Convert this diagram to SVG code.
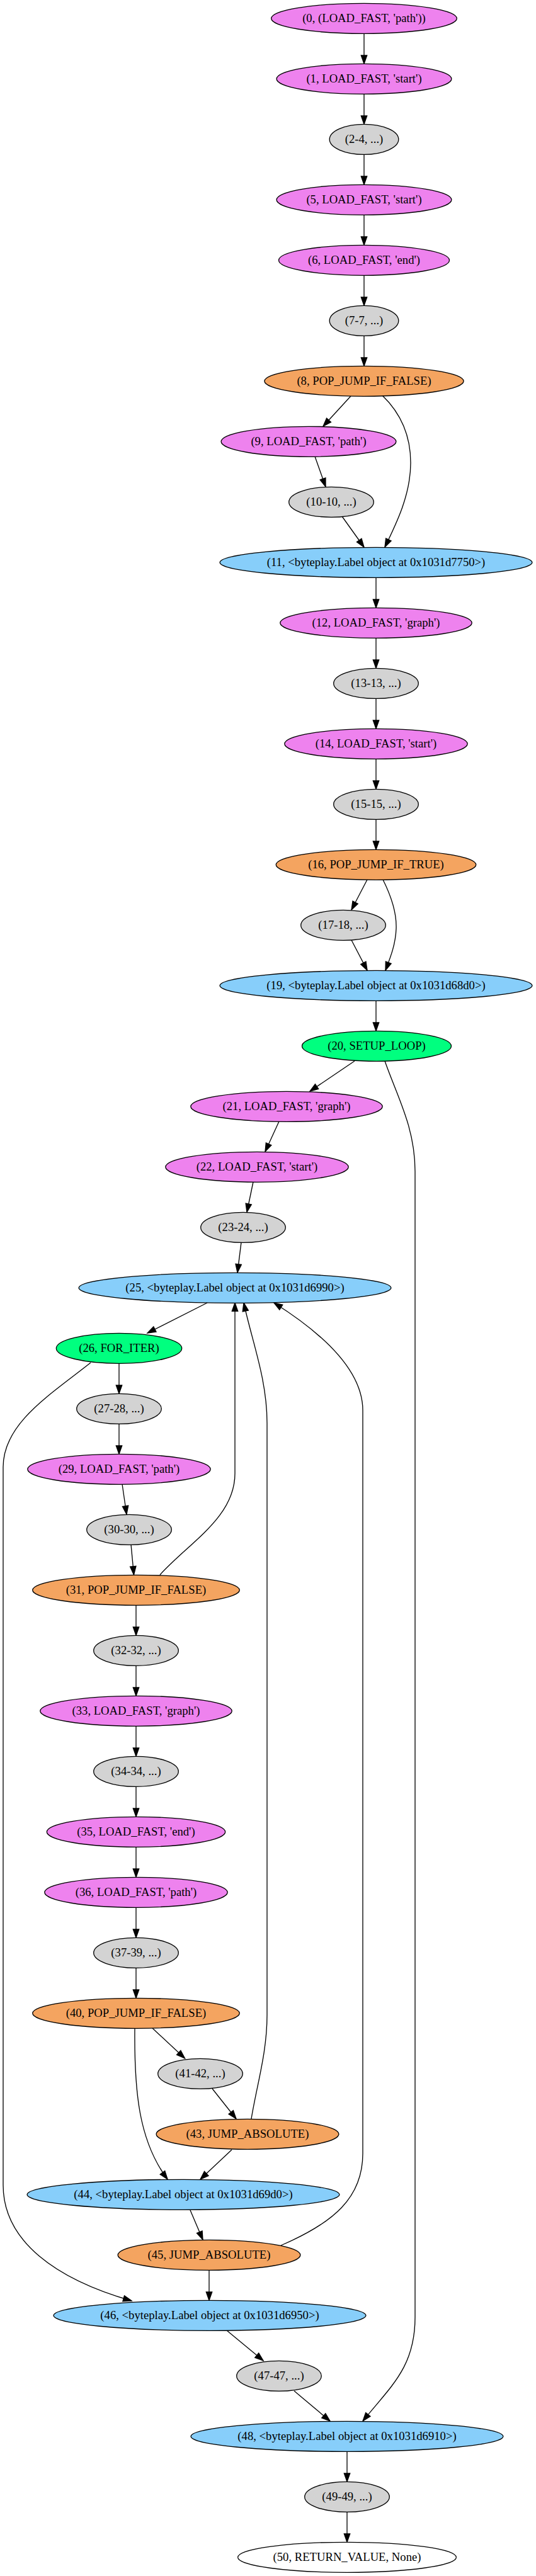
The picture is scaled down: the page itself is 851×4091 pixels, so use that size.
<svg xmlns="http://www.w3.org/2000/svg" width="851" height="4091" viewBox="0 0 851 4091">
<style>
.node ellipse{stroke:#000;stroke-width:1.33}
.node text{font-family:"Liberation Serif","Times New Roman",serif;font-size:18.67px;text-anchor:middle;fill:#000}
.v{fill:#ee82ee}.g{fill:#d3d3d3}.o{fill:#f4a460}.b{fill:#87cefa}.s{fill:#00ff7f}.w{fill:#fff}
#edges path{fill:none;stroke:#000;stroke-width:1.33;marker-end:url(#arr)}
</style>
<defs>
<marker id="arr" markerUnits="userSpaceOnUse" viewBox="0 -6 15 12" markerWidth="15" markerHeight="12" refX="13.33" refY="0" orient="auto" overflow="visible">
<path d="M0,-4.67 L13.33,0 L0,4.67 Z" fill="#000" stroke="#000" stroke-width="1.33"/>
</marker>
</defs>
<rect width="851" height="4091" fill="#fff"/>
<g id="edges">
<path d="M578,53.3 L578,101.3"/>
<path d="M578,149.3 L578,197.3"/>
<path d="M578,245.3 L578,293.3"/>
<path d="M578,341.3 L578,389.3"/>
<path d="M578,437.3 L578,485.3"/>
<path d="M578,533.3 L578,581.3"/>
<path d="M557,629 L513,677"/>
<path d="M607,628 C635,655 652,690 652,735 C652,785 630,830 611,869"/>
<path d="M500,725 L517,773"/>
<path d="M543,820 L578,869"/>
<path d="M597,917.3 L597,965.3"/>
<path d="M597,1013.3 L597,1061.3"/>
<path d="M597,1109.3 L597,1157.3"/>
<path d="M597,1205.3 L597,1253.3"/>
<path d="M597,1301.3 L597,1349.3"/>
<path d="M583,1397 L558,1445"/>
<path d="M608,1397 C622,1425 630,1450 629,1475 C628,1500 620,1520 612,1541"/>
<path d="M558,1493 L583,1541"/>
<path d="M597,1589.3 L597,1637.3"/>
<path d="M563,1685 L492,1733"/>
<path d="M611,1685 C630,1740 659,1790 659,1860 L659,3680 C659,3760 620,3790 576,3845"/>
<path d="M443,1781 L421,1829"/>
<path d="M402,1877 L392,1925"/>
<path d="M383,1973 L377,2021"/>
<path d="M329,2069 L234,2117"/>
<path d="M189,2165.3 L189,2213.3"/>
<path d="M144,2164 C80,2215 5,2260 5,2330 L5,3470 C5,3560 90,3620 209,3654"/>
<path d="M189,2261.3 L189,2309.3"/>
<path d="M194,2357 L201,2405"/>
<path d="M208,2453 L212.5,2501"/>
<path d="M254,2501 C300,2450 373,2410 373,2340 L373,2069"/>
<path d="M216,2549.3 L216,2597.3"/>
<path d="M216,2645.3 L216,2693.3"/>
<path d="M216,2741.3 L216,2789.3"/>
<path d="M216,2837.3 L216,2885.3"/>
<path d="M216,2933.3 L216,2981.3"/>
<path d="M216,3029.3 L216,3077.3"/>
<path d="M216,3125.3 L216,3173.3"/>
<path d="M242,3221 L293.5,3269"/>
<path d="M214,3221 C213,3320 220,3400 266,3461"/>
<path d="M337,3317 L375,3365"/>
<path d="M399,3365 C408,3310 424,3260 424,3200 L424,2260 C424,2190 400,2130 387,2069"/>
<path d="M368,3414 L318,3461"/>
<path d="M302,3510 L322,3557"/>
<path d="M446,3566 C530,3530 576,3490 576,3420 L576,2240 C576,2170 500,2110 435,2069"/>
<path d="M332,3605.3 L332,3653.3"/>
<path d="M360,3701 L418,3749"/>
<path d="M467,3797 L524,3845"/>
<path d="M551,3893.3 L551,3941.3"/>
<path d="M551,3989.3 L551,4037.3"/>
</g>
<g id="n0" class="node"><ellipse class="v" cx="578" cy="29.3" rx="147.3" ry="24"/><text x="578" y="34.9">(0, (LOAD_FAST, 'path'))</text></g>
<g id="n1" class="node"><ellipse class="v" cx="578" cy="125.3" rx="138.9" ry="24"/><text x="578" y="130.9">(1, LOAD_FAST, 'start')</text></g>
<g id="n2" class="node"><ellipse class="g" cx="578" cy="221.3" rx="54.8" ry="24"/><text x="578" y="226.9">(2-4, ...)</text></g>
<g id="n5" class="node"><ellipse class="v" cx="578" cy="317.3" rx="138.9" ry="24"/><text x="578" y="322.9">(5, LOAD_FAST, 'start')</text></g>
<g id="n6" class="node"><ellipse class="v" cx="578" cy="413.3" rx="135.5" ry="24"/><text x="578" y="418.9">(6, LOAD_FAST, 'end')</text></g>
<g id="n7" class="node"><ellipse class="g" cx="578" cy="509.3" rx="54.8" ry="24"/><text x="578" y="514.9">(7-7, ...)</text></g>
<g id="n8" class="node"><ellipse class="o" cx="578" cy="605.3" rx="158.1" ry="24"/><text x="578" y="610.9">(8, POP_JUMP_IF_FALSE)</text></g>
<g id="n9" class="node"><ellipse class="v" cx="490" cy="701.3" rx="138.9" ry="24"/><text x="490" y="706.9">(9, LOAD_FAST, 'path')</text></g>
<g id="n10" class="node"><ellipse class="g" cx="526" cy="797.3" rx="67.3" ry="24"/><text x="526" y="802.9">(10-10, ...)</text></g>
<g id="n11" class="node"><ellipse class="b" cx="597" cy="893.3" rx="247.9" ry="24"/><text x="597" y="898.9">(11, &lt;byteplay.Label object at 0x1031d7750&gt;)</text></g>
<g id="n12" class="node"><ellipse class="v" cx="597" cy="989.3" rx="152.2" ry="24"/><text x="597" y="994.9">(12, LOAD_FAST, 'graph')</text></g>
<g id="n13" class="node"><ellipse class="g" cx="597" cy="1085.3" rx="67.3" ry="24"/><text x="597" y="1090.9">(13-13, ...)</text></g>
<g id="n14" class="node"><ellipse class="v" cx="597" cy="1181.3" rx="145.2" ry="24"/><text x="597" y="1186.9">(14, LOAD_FAST, 'start')</text></g>
<g id="n15" class="node"><ellipse class="g" cx="597" cy="1277.3" rx="67.3" ry="24"/><text x="597" y="1282.9">(15-15, ...)</text></g>
<g id="n16" class="node"><ellipse class="o" cx="597" cy="1373.3" rx="158.8" ry="24"/><text x="597" y="1378.9">(16, POP_JUMP_IF_TRUE)</text></g>
<g id="n17" class="node"><ellipse class="g" cx="545" cy="1469.3" rx="67.3" ry="24"/><text x="545" y="1474.9">(17-18, ...)</text></g>
<g id="n19" class="node"><ellipse class="b" cx="597" cy="1565.3" rx="247.9" ry="24"/><text x="597" y="1570.9">(19, &lt;byteplay.Label object at 0x1031d68d0&gt;)</text></g>
<g id="n20" class="node"><ellipse class="s" cx="598" cy="1661.3" rx="118.5" ry="24"/><text x="598" y="1666.9">(20, SETUP_LOOP)</text></g>
<g id="n21" class="node"><ellipse class="v" cx="455" cy="1757.3" rx="152.2" ry="24"/><text x="455" y="1762.9">(21, LOAD_FAST, 'graph')</text></g>
<g id="n22" class="node"><ellipse class="v" cx="408" cy="1853.3" rx="145.2" ry="24"/><text x="408" y="1858.9">(22, LOAD_FAST, 'start')</text></g>
<g id="n23" class="node"><ellipse class="g" cx="386" cy="1949.3" rx="67.3" ry="24"/><text x="386" y="1954.9">(23-24, ...)</text></g>
<g id="n25" class="node"><ellipse class="b" cx="373" cy="2045.3" rx="247.9" ry="24"/><text x="373" y="2050.9">(25, &lt;byteplay.Label object at 0x1031d6990&gt;)</text></g>
<g id="n26" class="node"><ellipse class="s" cx="189" cy="2141.3" rx="99.7" ry="24"/><text x="189" y="2146.9">(26, FOR_ITER)</text></g>
<g id="n27" class="node"><ellipse class="g" cx="189" cy="2237.3" rx="67.3" ry="24"/><text x="189" y="2242.9">(27-28, ...)</text></g>
<g id="n29" class="node"><ellipse class="v" cx="189" cy="2333.3" rx="145.2" ry="24"/><text x="189" y="2338.9">(29, LOAD_FAST, 'path')</text></g>
<g id="n30" class="node"><ellipse class="g" cx="205" cy="2429.3" rx="67.3" ry="24"/><text x="205" y="2434.9">(30-30, ...)</text></g>
<g id="n31" class="node"><ellipse class="o" cx="216" cy="2525.3" rx="164.3" ry="24"/><text x="216" y="2530.9">(31, POP_JUMP_IF_FALSE)</text></g>
<g id="n32" class="node"><ellipse class="g" cx="216" cy="2621.3" rx="67.3" ry="24"/><text x="216" y="2626.9">(32-32, ...)</text></g>
<g id="n33" class="node"><ellipse class="v" cx="216" cy="2717.3" rx="152.2" ry="24"/><text x="216" y="2722.9">(33, LOAD_FAST, 'graph')</text></g>
<g id="n34" class="node"><ellipse class="g" cx="216" cy="2813.3" rx="67.3" ry="24"/><text x="216" y="2818.9">(34-34, ...)</text></g>
<g id="n35" class="node"><ellipse class="v" cx="216" cy="2909.3" rx="141.7" ry="24"/><text x="216" y="2914.9">(35, LOAD_FAST, 'end')</text></g>
<g id="n36" class="node"><ellipse class="v" cx="216" cy="3005.3" rx="145.2" ry="24"/><text x="216" y="3010.9">(36, LOAD_FAST, 'path')</text></g>
<g id="n37" class="node"><ellipse class="g" cx="216" cy="3101.3" rx="67.3" ry="24"/><text x="216" y="3106.9">(37-39, ...)</text></g>
<g id="n40" class="node"><ellipse class="o" cx="216" cy="3197.3" rx="164.3" ry="24"/><text x="216" y="3202.9">(40, POP_JUMP_IF_FALSE)</text></g>
<g id="n41" class="node"><ellipse class="g" cx="318" cy="3293.3" rx="67.3" ry="24"/><text x="318" y="3298.9">(41-42, ...)</text></g>
<g id="n43" class="node"><ellipse class="o" cx="393" cy="3389.3" rx="144.9" ry="24"/><text x="393" y="3394.9">(43, JUMP_ABSOLUTE)</text></g>
<g id="n44" class="node"><ellipse class="b" cx="291" cy="3485.3" rx="247.9" ry="24"/><text x="291" y="3490.9">(44, &lt;byteplay.Label object at 0x1031d69d0&gt;)</text></g>
<g id="n45" class="node"><ellipse class="o" cx="332" cy="3581.3" rx="144.9" ry="24"/><text x="332" y="3586.9">(45, JUMP_ABSOLUTE)</text></g>
<g id="n46" class="node"><ellipse class="b" cx="333" cy="3677.3" rx="247.9" ry="24"/><text x="333" y="3682.9">(46, &lt;byteplay.Label object at 0x1031d6950&gt;)</text></g>
<g id="n47" class="node"><ellipse class="g" cx="443" cy="3773.3" rx="67.3" ry="24"/><text x="443" y="3778.9">(47-47, ...)</text></g>
<g id="n48" class="node"><ellipse class="b" cx="551" cy="3869.3" rx="247.9" ry="24"/><text x="551" y="3874.9">(48, &lt;byteplay.Label object at 0x1031d6910&gt;)</text></g>
<g id="n49" class="node"><ellipse class="g" cx="551" cy="3965.3" rx="67.3" ry="24"/><text x="551" y="3970.9">(49-49, ...)</text></g>
<g id="n50" class="node"><ellipse class="w" cx="551" cy="4061.3" rx="173.4" ry="24"/><text x="551" y="4066.9">(50, RETURN_VALUE, None)</text></g>
</svg>
